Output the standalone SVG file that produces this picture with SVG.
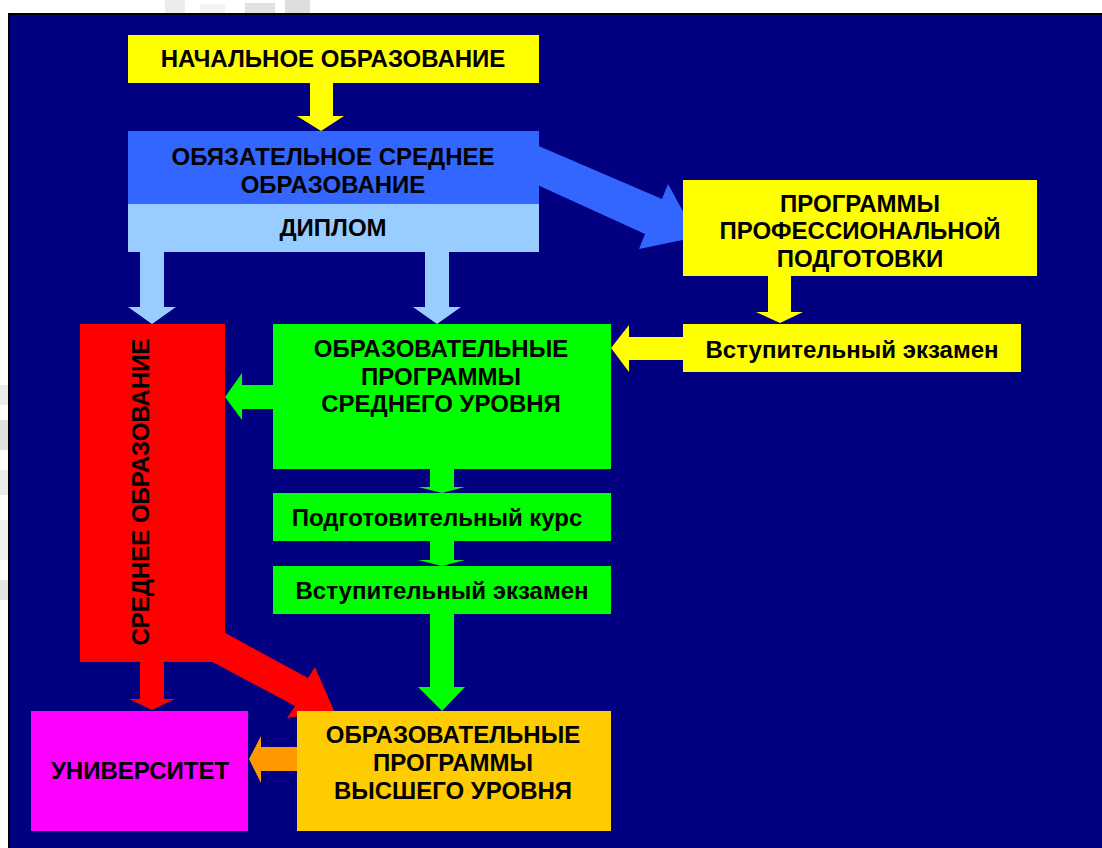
<svg xmlns="http://www.w3.org/2000/svg" width="1102" height="848" viewBox="0 0 1102 848">
<style>
  text { font-family: "Liberation Sans", Arial, sans-serif; font-weight: bold; font-size: 24px; fill: #000; text-anchor: middle; }
</style>
<rect x="0" y="0" width="1102" height="848" fill="#ffffff"/>
<g id="noise" fill="#ececec">
  <rect x="165" y="0" width="20" height="13"/>
  <rect x="200" y="4" width="25" height="9" fill="#f3f3f3"/>
  <rect x="245" y="3" width="30" height="10" fill="#e2e2e2"/>
  <rect x="285" y="0" width="25" height="13" fill="#dedede"/>
  <rect x="0" y="385" width="8" height="20"/>
  <rect x="0" y="420" width="8" height="30" fill="#e0e0e0"/>
  <rect x="0" y="470" width="8" height="25"/>
  <rect x="0" y="520" width="8" height="40" fill="#f0f0f0"/>
  <rect x="0" y="580" width="8" height="20" fill="#e4e4e4"/>
</g>
<rect x="8" y="13" width="1094" height="835" fill="#000080"/>
<rect x="8" y="13" width="1094" height="2" fill="#000000"/>
<rect x="8" y="13" width="2" height="835" fill="#000000"/>

<g id="connectors">
  <polygon points="310,83 333,83 333,116 344,116 321,131 297,116 310,116" fill="#ffff00"/>
  <polygon points="520,138 662,199 668,184 697,237 639,249 645,234 520,177" fill="#3366ff"/>
  <polygon points="140,252 164,252 164,307 176,307 152,324 128,307 140,307" fill="#99ccff"/>
  <polygon points="425,252 449,252 449,307 461,307 437,324 413,307 425,307" fill="#99ccff"/>
  <polygon points="768,276 791,276 791,312 803,312 780,323 756,312 768,312" fill="#ffff00"/>
  <polygon points="683,337 629,337 629,325 611,348 629,372 629,360 683,360" fill="#ffff00"/>
  <polygon points="273,385 242,385 242,373 225,397 242,420 242,409 273,409" fill="#00ff00"/>
  <polygon points="430,469 454,469 454,487 465,487 442,493 418,487 430,487" fill="#00ff00"/>
  <polygon points="430,541 454,541 454,560 465,560 442,566 418,560 430,560" fill="#00ff00"/>
  <polygon points="430,614 454,614 454,687 465,687 442,711 418,687 430,687" fill="#00ff00"/>
  <polygon points="140,660 164,660 164,699 175,699 152,710 129,699 140,699" fill="#ff0000"/>
  <polygon points="205,622 308,678 315,667 334,711 287,718 295,706 192,651" fill="#ff0000"/>
  <polygon points="297,747 261,747 261,736 249,759 261,783 261,771 297,771" fill="#ff9900"/>
</g>

<g id="n-primary">
  <rect x="128" y="35" width="411" height="48" fill="#ffff00"/>
  <text x="333" y="67">НАЧАЛЬНОЕ ОБРАЗОВАНИЕ</text>
</g>
<g id="n-mandatory">
  <rect x="128" y="131" width="411" height="73" fill="#3366ff"/>
  <text x="333" y="165">ОБЯЗАТЕЛЬНОЕ СРЕДНЕЕ</text>
  <text x="333" y="193">ОБРАЗОВАНИЕ</text>
</g>
<g id="n-diploma">
  <rect x="128" y="204" width="411" height="48" fill="#99ccff"/>
  <text x="333" y="236">ДИПЛОМ</text>
</g>
<g id="n-prof">
  <rect x="683" y="180" width="354" height="96" fill="#ffff00"/>
  <text x="860" y="212">ПРОГРАММЫ</text>
  <text x="860" y="239">ПРОФЕССИОНАЛЬНОЙ</text>
  <text x="860" y="267">ПОДГОТОВКИ</text>
</g>
<g id="n-exam1">
  <rect x="683" y="324" width="338" height="48" fill="#ffff00"/>
  <text x="852" y="358">Вступительный экзамен</text>
</g>
<g id="n-mid">
  <rect x="273" y="324" width="338" height="145" fill="#00ff00"/>
  <text x="441" y="357">ОБРАЗОВАТЕЛЬНЫЕ</text>
  <text x="441" y="385">ПРОГРАММЫ</text>
  <text x="441" y="412">СРЕДНЕГО УРОВНЯ</text>
</g>
<g id="n-prep">
  <rect x="273" y="493" width="338" height="48" fill="#00ff00"/>
  <text x="437" y="526">Подготовительный курс</text>
</g>
<g id="n-exam2">
  <rect x="273" y="566" width="338" height="48" fill="#00ff00"/>
  <text x="442" y="599">Вступительный экзамен</text>
</g>
<g id="n-secondary">
  <rect x="80" y="324" width="145" height="338" fill="#ff0000"/>
  <text transform="translate(149,492) rotate(-90)" x="0" y="0">СРЕДНЕЕ ОБРАЗОВАНИЕ</text>
</g>
<g id="n-higher">
  <rect x="297" y="711" width="314" height="120" fill="#ffcc00"/>
  <text x="453" y="743">ОБРАЗОВАТЕЛЬНЫЕ</text>
  <text x="453" y="771">ПРОГРАММЫ</text>
  <text x="453" y="799">ВЫСШЕГО УРОВНЯ</text>
</g>
<g id="n-univ">
  <rect x="31" y="711" width="217" height="120" fill="#ff00ff"/>
  <text x="140" y="779">УНИВЕРСИТЕТ</text>
</g>
</svg>
